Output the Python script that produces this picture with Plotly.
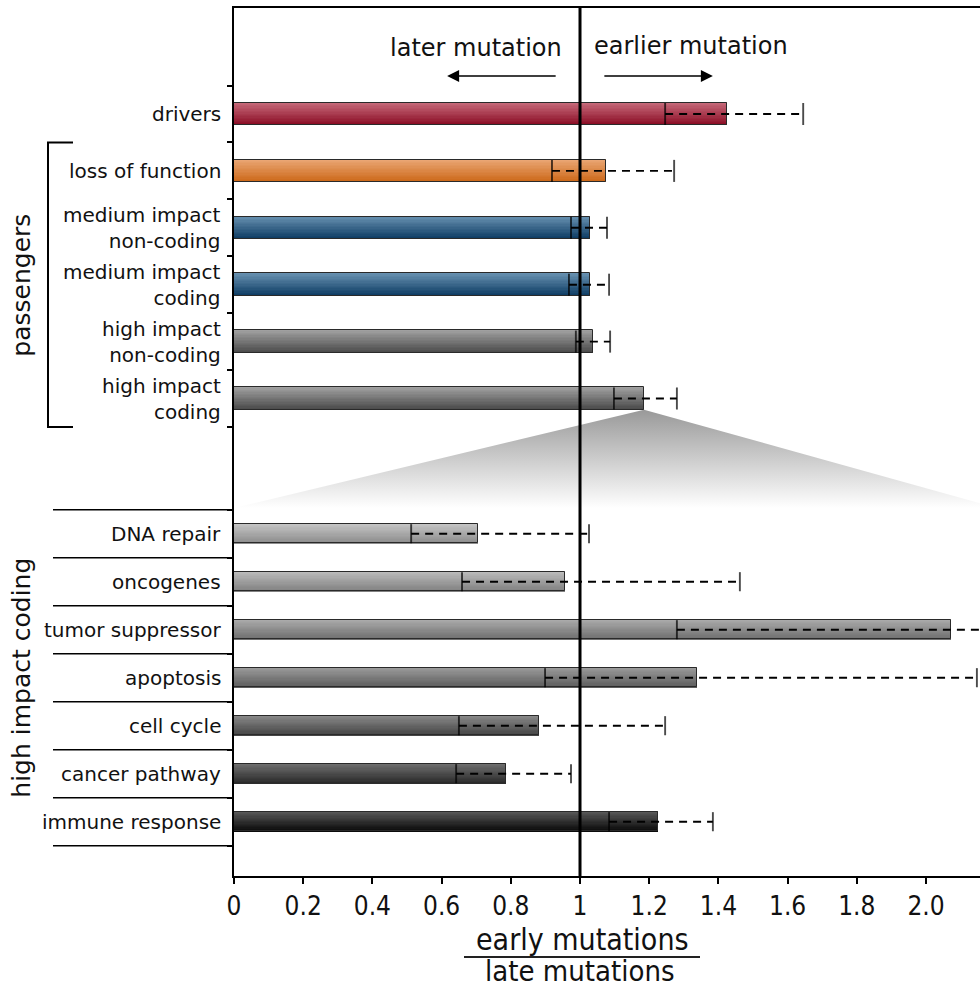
import plotly.graph_objects as go

# ---------------- data ----------------
top_labels = ["drivers", "loss of function", "medium impact<br>non-coding",
              "medium impact<br>coding", "high impact<br>non-coding", "high impact<br>coding"]
top_values = [1.425, 1.075, 1.029, 1.029, 1.038, 1.185]
top_err_lo = [1.246, 0.919, 0.974, 0.968, 0.988, 1.098]
top_err_hi = [1.645, 1.272, 1.078, 1.084, 1.087, 1.280]

bot_labels = ["DNA repair", "oncogenes", "tumor suppressor", "apoptosis",
              "cell cycle", "cancer pathway", "immune response"]
bot_values = [0.705, 0.957, 2.072, 1.338, 0.882, 0.786, 1.225]
bot_err_lo = [0.512, 0.659, 1.280, 0.899, 0.650, 0.642, 1.084]
bot_err_hi = [1.026, 1.462, 2.400, 2.147, 1.246, 0.974, 1.384]

x_tickvals = [0, 0.2, 0.4, 0.6, 0.8, 1.0, 1.2, 1.4, 1.6, 1.8, 2.0]
x_ticktext = ["0", "0.2", "0.4", "0.6", "0.8", "1", "1.2", "1.4", "1.6", "1.8", "2.0"]

# ---------------- styles ----------------
top_col_hi = ["#c86c7c", "#eba877", "#6a93b3", "#6a93b3", "#a3a3a3", "#a3a3a3"]
top_col_lo = ["#8a0c24", "#cc6818", "#0c3b62", "#0c3b62", "#4a4a4a", "#4a4a4a"]
bot_col_hi = ["#c6c6c6", "#bdbdbd", "#acacac", "#9c9c9c", "#8a8a8a", "#707070", "#5a5a5a"]
bot_col_lo = ["#8c8c8c", "#808080", "#6e6e6e", "#5c5c5c", "#444444", "#2a2a2a", "#080808"]

FONT = "DejaVu Sans"
COND = "DejaVu Sans Condensed, DejaVu Sans"

W, H = 980, 989
ML, MR, MT, MB = 234, 0, 8, 113
PW, PH = W - ML - MR, H - MT - MB      # plot area in px
XMAX = 2.156                            # right edge of visible x range

# layout of rows (y axis measured in px from the top of the plot area)
TOP0, TOP_STEP, TOP_BAR = 106.0, 56.9, 22.5
BOT0, BOT_STEP, BOT_BAR = 525.7, 48.0, 19.5
TRI_BASE = 500.0

top_pos = [TOP0 + i * TOP_STEP for i in range(len(top_values))]
bot_pos = [BOT0 + i * BOT_STEP for i in range(len(bot_values))]

labels = top_labels + bot_labels
values = top_values + bot_values
err_lo = top_err_lo + bot_err_lo
err_hi = top_err_hi + bot_err_hi
pos = top_pos + bot_pos
heights = [TOP_BAR] * len(top_values) + [BOT_BAR] * len(bot_values)
col_hi = top_col_hi + bot_col_hi
col_lo = top_col_lo + bot_col_lo


def hex2rgb(h):
    h = h.lstrip("#")
    return [int(h[i:i + 2], 16) for i in (0, 2, 4)]


def mix(a, b, t):
    ca, cb = hex2rgb(a), hex2rgb(b)
    return "rgb(%d,%d,%d)" % tuple(round(ca[i] + (cb[i] - ca[i]) * t) for i in range(3))


def ypaper(yu):
    return 1 - yu / PH


fig = go.Figure()

# zoom triangle (from the high impact coding bar to the lower panel)
hc = len(top_values) - 1
apex_x, apex_y = top_values[hc], top_pos[hc] + TOP_BAR / 2
fig.add_trace(go.Scatter(
    x=[apex_x, 0, XMAX + 0.05, apex_x], y=[apex_y, TRI_BASE, TRI_BASE, apex_y],
    mode="lines", fill="toself", line=dict(width=0, color="rgba(0,0,0,0)"),
    fillgradient=dict(type="vertical", start=apex_y, stop=TRI_BASE,
                      colorscale=[[0, "#999999"], [1, "#ffffff"]]),
    hoverinfo="skip", showlegend=False))

# gradient bars as horizontal slices
N = 16
for k in range(N):
    t = (k + 0.5) / N
    fig.add_trace(go.Bar(
        x=values, y=pos, orientation="h",
        width=[h / N + 0.15 for h in heights],
        offset=[-h / 2 + k * h / N for h in heights],
        marker=dict(color=[mix(a, b, t) for a, b in zip(col_hi, col_lo)], line=dict(width=0)),
        hoverinfo="skip", showlegend=False))

# bar outlines
fig.add_trace(go.Bar(
    x=values, y=pos, orientation="h", width=heights, offset=[-h / 2 for h in heights],
    marker=dict(color="rgba(0,0,0,0)", line=dict(color="#2a2a2a", width=1)),
    hoverinfo="skip", showlegend=False))

# dashed error bars
ex, ey = [], []
for lo, hi, p in zip(err_lo, err_hi, pos):
    ex += [lo, hi, None]
    ey += [p, p, None]
fig.add_trace(go.Scatter(x=ex, y=ey, mode="lines",
                         line=dict(color="black", width=1.9, dash="8px,6px"),
                         hoverinfo="skip", showlegend=False))
# caps
cx, cy, cs = [], [], []
for lo, hi, p, h in zip(err_lo, err_hi, pos, heights):
    cx += [lo, hi]
    cy += [p, p]
    cs += [h * 0.7, h * 0.7]
fig.add_trace(go.Scatter(x=cx, y=cy, mode="markers",
                         marker=dict(symbol="line-ns", size=cs, line=dict(color="black", width=1.9)),
                         hoverinfo="skip", showlegend=False))

# y ticks at row boundaries
top_bounds = [p - TOP_STEP / 2 for p in top_pos] + [top_pos[-1] + TOP_STEP / 2]
bot_bounds = [p - BOT_STEP / 2 for p in bot_pos] + [bot_pos[-1] + BOT_STEP / 2]

shapes = []
# vertical reference line at 1
shapes.append(dict(type="line", xref="x", yref="paper", x0=1, x1=1, y0=0, y1=1,
                   line=dict(color="black", width=3), layer="above"))
# passengers bracket
bx0, bx1 = (48 - ML) / PW, (73 - ML) / PW
yb0, yb1 = ypaper(top_bounds[1]), ypaper(top_bounds[-1])
shapes.append(dict(type="path", xref="paper", yref="paper",
                   path=f"M {bx1},{yb0} L {bx0},{yb0} L {bx0},{yb1} L {bx1},{yb1}",
                   line=dict(color="black", width=2)))
# separator lines for lower panel
for b in bot_bounds:
    shapes.append(dict(type="line", xref="paper", yref="paper", x0=(53 - ML) / PW, x1=0,
                       y0=ypaper(b), y1=ypaper(b), line=dict(color="black", width=1.5)))
# fraction bar of the x-axis title
fy = (MT + PH - 957) / PH
shapes.append(dict(type="line", xref="paper", yref="paper", x0=(464 - ML) / PW,
                   x1=(700 - ML) / PW, y0=fy, y1=fy, line=dict(color="#222", width=2)))

annotations = []
for lab, p in zip(labels, pos):
    annotations.append(dict(text=lab, xref="paper", yref="y", x=0, y=p, xshift=-11,
                            xanchor="right", yanchor="middle", align="right", showarrow=False,
                            font=dict(family=FONT, size=20, color="#111")))
# group labels
annotations.append(dict(text="passengers", xref="paper", yref="paper", x=(22 - ML) / PW,
                        y=ypaper((top_bounds[1] + top_bounds[-1]) / 2), textangle=-90,
                        xanchor="center", yanchor="middle", showarrow=False,
                        font=dict(family=FONT, size=25, color="#111")))
annotations.append(dict(text="high impact coding", xref="paper", yref="paper", x=(22 - ML) / PW,
                        y=ypaper((bot_bounds[0] + bot_bounds[-1]) / 2), textangle=-90,
                        xanchor="center", yanchor="middle", showarrow=False,
                        font=dict(family=FONT, size=25, color="#111")))
# direction arrows
annotations.append(dict(text="later mutation", xref="x", yref="y", x=0.955, y=40,
                        xanchor="right", yanchor="middle", showarrow=False,
                        font=dict(family=FONT, size=24, color="#111")))
annotations.append(dict(text="earlier mutation", xref="x", yref="y", x=1.035, y=38,
                        xanchor="left", yanchor="middle", showarrow=False,
                        font=dict(family=FONT, size=24, color="#111")))
annotations.append(dict(text="", xref="x", yref="y", axref="x", ayref="y",
                        x=0.616, y=68, ax=0.934, ay=68, showarrow=True,
                        arrowhead=2, arrowsize=1.6, arrowwidth=1.5, arrowcolor="black"))
annotations.append(dict(text="", xref="x", yref="y", axref="x", ayref="y",
                        x=1.384, y=68, ax=1.066, ay=68, showarrow=True,
                        arrowhead=2, arrowsize=1.6, arrowwidth=1.5, arrowcolor="black"))
# x-axis title as a fraction
annotations.append(dict(text="early mutations", xref="paper", yref="paper",
                        x=(582 - ML) / PW, y=(MT + PH - 940) / PH, xanchor="center",
                        yanchor="middle", showarrow=False,
                        font=dict(family=COND, size=30, color="#111")))
annotations.append(dict(text="late mutations", xref="paper", yref="paper",
                        x=(580 - ML) / PW, y=(MT + PH - 971) / PH, xanchor="center",
                        yanchor="middle", showarrow=False,
                        font=dict(family=COND, size=29, color="#111")))

fig.update_layout(
    width=W, height=H, margin=dict(l=ML, r=MR, t=MT, b=MB),
    paper_bgcolor="white", plot_bgcolor="white", barmode="overlay", bargap=0,
    showlegend=False, shapes=shapes, annotations=annotations,
    xaxis=dict(range=[0, XMAX], tickvals=x_tickvals, ticktext=x_ticktext,
               ticks="outside", ticklen=6, tickwidth=1.5, tickcolor="black",
               showline=True, linewidth=2, linecolor="black", mirror=True,
               showgrid=False, zeroline=False,
               tickfont=dict(family=COND, size=26, color="#111")),
    yaxis=dict(range=[PH, 0], tickvals=top_bounds + bot_bounds, ticks="outside",
               ticklen=5, tickwidth=1.5, tickcolor="black", showticklabels=False,
               showline=True, linewidth=2, linecolor="black",
               showgrid=False, zeroline=False),
)

fig.write_html("out.html")
